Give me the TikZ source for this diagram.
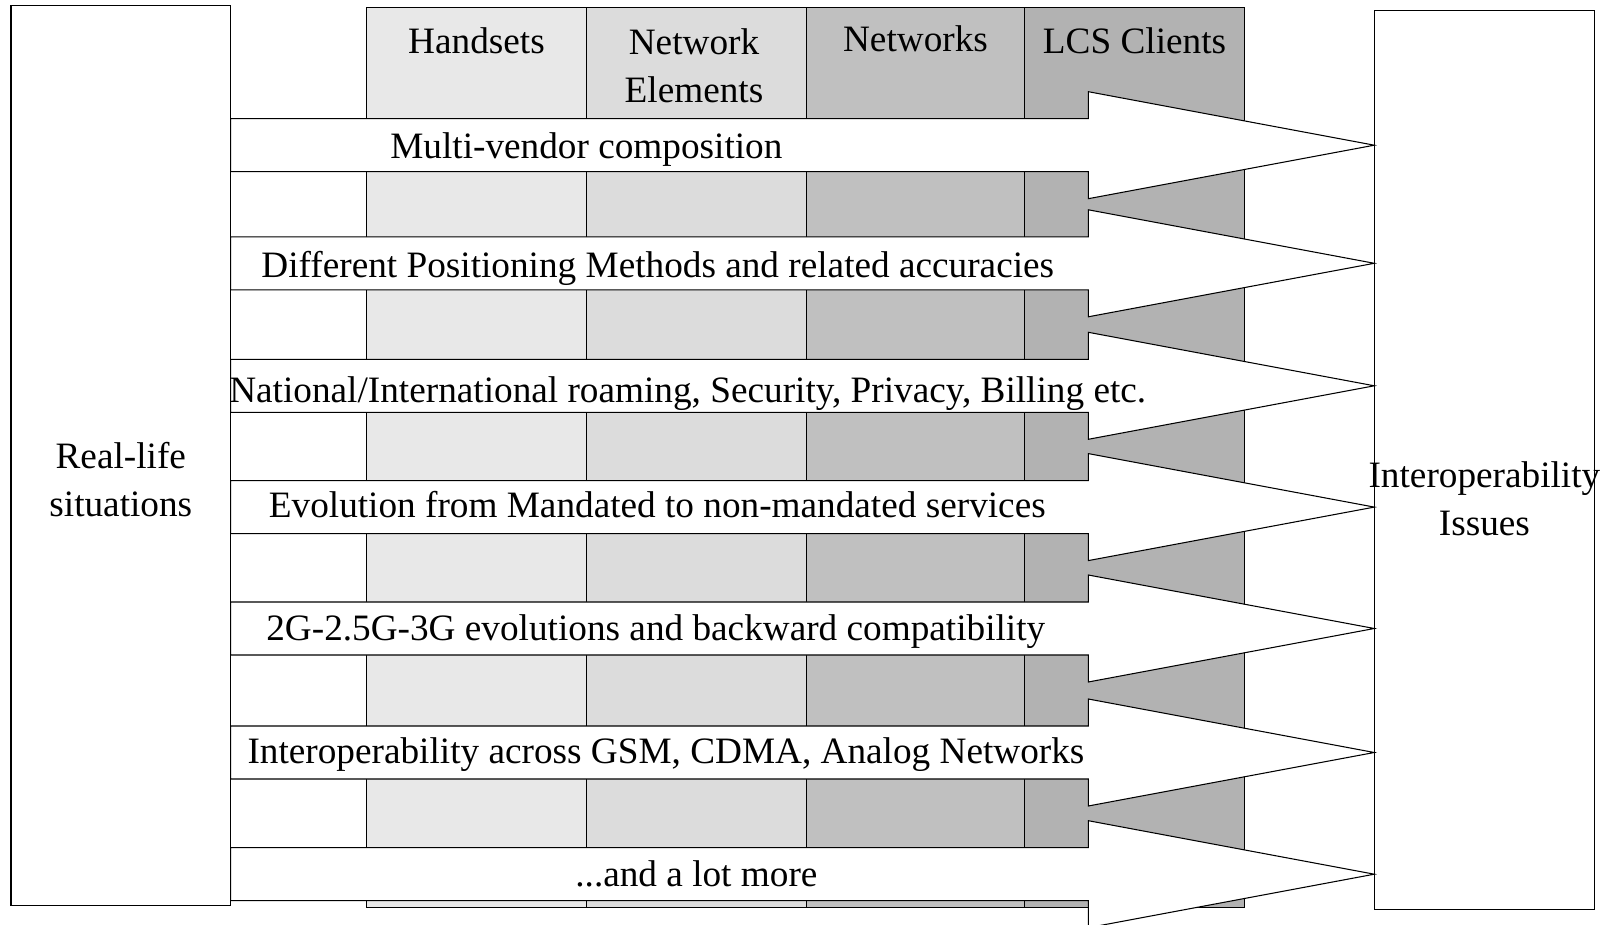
\documentclass[tikz,border=0pt]{standalone}
\usepackage{fontspec}
\setmainfont{Liberation Serif}
\definecolor{grisun}{RGB}{232,232,232}
\definecolor{grisdeux}{RGB}{220,220,220}
\definecolor{gristrois}{RGB}{192,192,192}
\definecolor{grisquatre}{RGB}{178,178,178}
\begin{document}
\begin{tikzpicture}[x=0.02cm, y=-0.02cm]
\tikzset{boite/.style={draw, line width=0.6pt},
fleche/.style={draw, fill=white, line width=0.6pt},
etiquette/.style={font=\fontsize{21.2pt}{27.5pt}\selectfont, inner sep=0pt, anchor=base, align=center}}
\useasboundingbox (0,0) rectangle (1613,925);
\clip (0,0) rectangle (1613,925);
\draw[boite, fill=grisun] (366.7,7.3) rectangle (586.4,907.3);
\draw[boite, fill=grisdeux] (586.4,7.3) rectangle (806.5,907.3);
\draw[boite, fill=gristrois] (806.5,7.3) rectangle (1024.6,907.3);
\draw[boite, fill=grisquatre] (1024.6,7.3) rectangle (1244.5,907.3);
\node[etiquette] (C1) at (476.5,54) {Handsets};
\node[etiquette] (C2) at (694,102.4) {Network\\Elements};
\node[etiquette] (C3) at (915.5,52) {Networks};
\node[etiquette] (C4) at (1134.5,54) {LCS Clients};
\draw[boite] (11,5.7) rectangle (230.7,905.3);
\draw[boite] (1374.3,10.3) rectangle (1594.5,909.4);
\node[etiquette] (G) at (120.8,517) {Real-life\\situations};
\node[etiquette] (D) at (1484.4,535.6) {Interoperability\\Issues};
\draw[fleche] (230.7,118.7) -- ++(857.6,0) -- ++(0,-27) -- ++(286,53.5) -- ++(-286,53.5) -- ++(0,-27) -- ++(-857.6,0) -- cycle;
\draw[fleche] (230.7,236.8) -- ++(857.6,0) -- ++(0,-27) -- ++(286,53.5) -- ++(-286,53.5) -- ++(0,-27) -- ++(-857.6,0) -- cycle;
\draw[fleche] (230.7,359.3) -- ++(857.6,0) -- ++(0,-27) -- ++(286,53.5) -- ++(-286,53.5) -- ++(0,-27) -- ++(-857.6,0) -- cycle;
\draw[fleche] (230.7,480.6) -- ++(857.6,0) -- ++(0,-27) -- ++(286,53.5) -- ++(-286,53.5) -- ++(0,-27) -- ++(-857.6,0) -- cycle;
\draw[fleche] (230.7,602) -- ++(857.6,0) -- ++(0,-27) -- ++(286,53.5) -- ++(-286,53.5) -- ++(0,-27) -- ++(-857.6,0) -- cycle;
\draw[fleche] (230.7,726) -- ++(857.6,0) -- ++(0,-27) -- ++(286,53.5) -- ++(-286,53.5) -- ++(0,-27) -- ++(-857.6,0) -- cycle;
\draw[fleche] (230.7,847.7) -- ++(857.6,0) -- ++(0,-27) -- ++(286,53.5) -- ++(-286,53.5) -- ++(0,-27) -- ++(-857.6,0) -- cycle;
\node[etiquette] (T1) at (586.4,158.3) {Multi-vendor composition};
\node[etiquette] (T2) at (657.8,278) {Different Positioning Methods and related accuracies};
\node[etiquette] (T3) at (687.7,403) {National/International roaming, Security, Privacy, Billing etc.};
\node[etiquette] (T4) at (657.3,518) {Evolution from Mandated to non-mandated services};
\node[etiquette] (T5) at (655.8,640.5) {2G-2.5G-3G evolutions and backward compatibility};
\node[etiquette] (T6) at (666,763) {Interoperability across GSM, CDMA, Analog Networks};
\node[etiquette] (T7) at (696.4,886) {...and a lot more};
\end{tikzpicture}
\end{document}
